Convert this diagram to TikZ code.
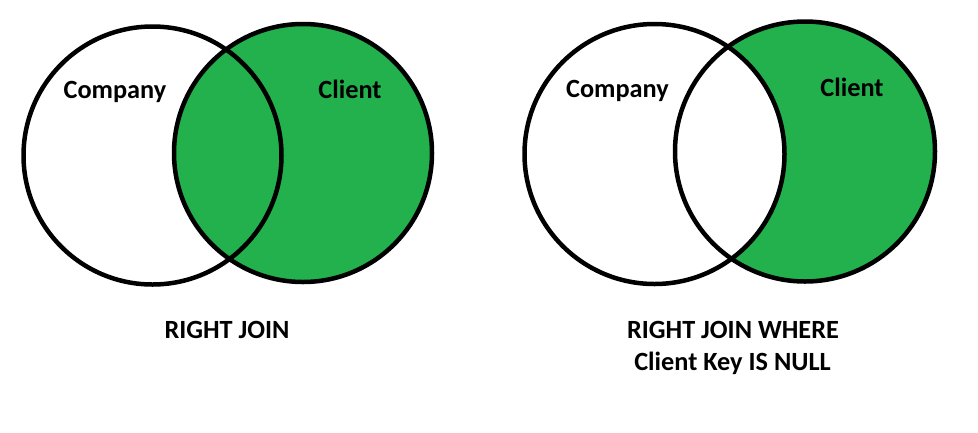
\documentclass[tikz,border=0pt]{standalone}
\usepackage{fontspec}
\setmainfont{Carlito}
\definecolor{paintgreen}{RGB}{34,177,76}
\begin{document}
\begin{tikzpicture}[x=1pt,y=-1pt,
  ring/.style={draw=black,line width=4.5pt},
  lbl/.style={font=\bfseries\fontsize{26.3}{32}\selectfont,inner sep=0pt,anchor=base}]
\useasboundingbox[fill=white] (0,0) rectangle (978,432);
% left diagram
\fill[paintgreen] (303,153) circle (129);
\draw[ring] (152.5,155.5) circle (129);
\draw[ring] (303,153) circle (129);
% right diagram
\fill[paintgreen] (805,151.5) circle (130);
\begin{scope}
  \clip (805,151.5) circle (130);
  \fill[white] (654.5,154) circle (130);
\end{scope}
\draw[ring] (654.5,154) circle (130);
\draw[ring] (805,151.5) circle (130);
% labels
\node[lbl] (comp1) at (115,98) {Company};
\node[lbl] (cli1) at (350,98) {Client};
\node[lbl] (comp2) at (617.5,97) {Company};
\node[lbl] (cli2) at (852,96) {Client};
\node[lbl] (cap1) at (227,338) {RIGHT JOIN};
\node[lbl] (cap2a) at (733,338) {RIGHT JOIN WHERE};
\node[lbl] (cap2b) at (732.5,370) {Client Key IS NULL};
\end{tikzpicture}
\end{document}
